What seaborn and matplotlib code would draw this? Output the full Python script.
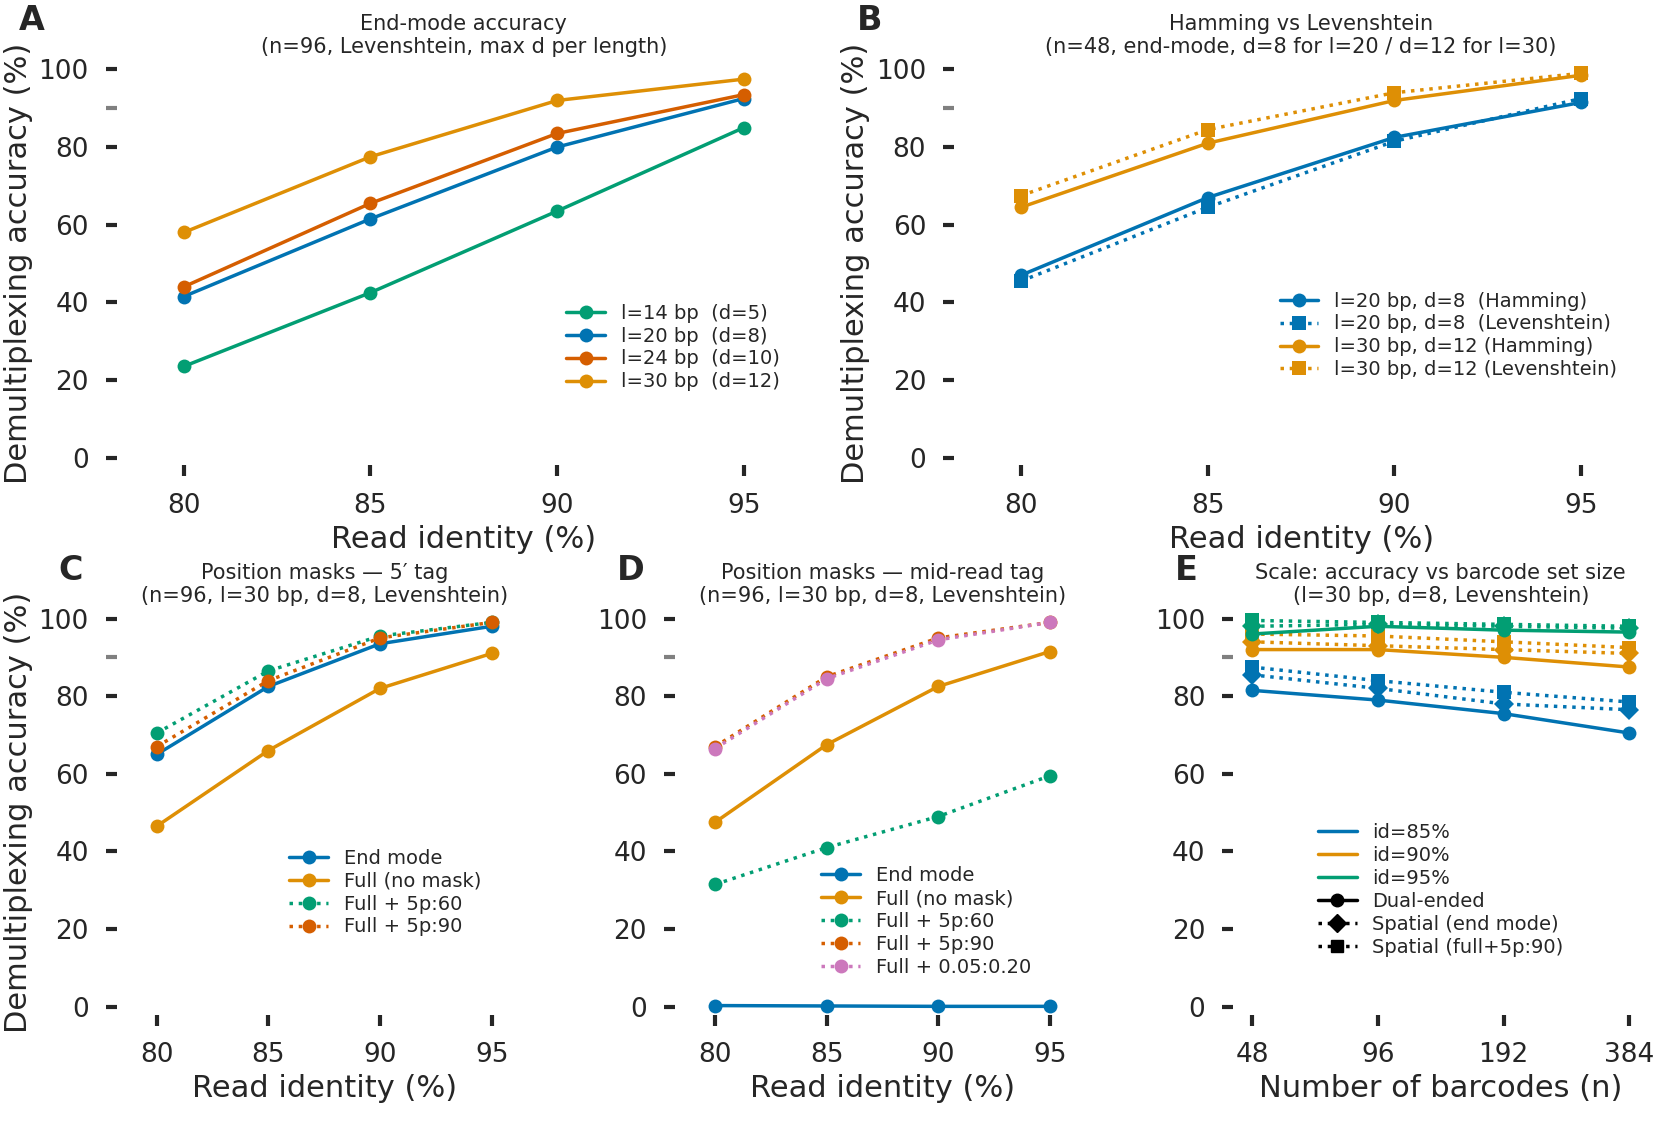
import numpy as np
import pandas as pd
import seaborn as sns
import matplotlib.pyplot as plt
from matplotlib.lines import Line2D

sns.set_theme(style="ticks", context="talk")
plt.rcParams['font.family'] = ['DejaVu Sans']

BLUE, ORANGE, GREEN, RED, PINK = "#0173b2", "#de8f05", "#029e73", "#d55e00", "#cc78bc"

identity = [80, 85, 90, 95]

# Panel A
a_l14 = [23.5, 42.5, 63.5, 85]
a_l20 = [41.5, 61.5, 80, 92.5]
a_l24 = [44, 65.5, 83.5, 93.5]
a_l30 = [58, 77.5, 92, 97.5]

# Panel B
b_l20_ham = [47, 67, 82.5, 91.5]
b_l20_lev = [45.5, 64.5, 81.5, 92.5]
b_l30_ham = [64.5, 81, 92, 98.5]
b_l30_lev = [67.5, 84.5, 94, 99]

# Panel C
c_end = [65, 82.5, 93.5, 98]
c_full = [46.5, 66, 82, 91]
c_5p60 = [70.5, 86.5, 95.5, 99]
c_5p90 = [67, 84, 95, 99]

# Panel D
d_end = [0.3, 0.2, 0.1, 0.1]
d_full = [47.5, 67.5, 82.5, 91.5]
d_5p60 = [31.5, 41, 49, 59.5]
d_5p90 = [67, 85, 95, 99]
d_frac = [66.5, 84.5, 94.5, 99]

# Panel E
n_barcodes = [48, 96, 192, 384]
e_85_dual = [81.5, 79, 75.5, 70.5]
e_85_end = [85.5, 82, 78, 76.5]
e_85_full = [87.5, 84, 81, 78.5]
e_90_dual = [92, 92, 90, 87.5]
e_90_end = [94, 93, 92, 91]
e_90_full = [96, 95.5, 94, 92.5]
e_95_dual = [96, 98, 97, 96.5]
e_95_end = [98, 98.5, 98, 97.5]
e_95_full = [99.5, 99, 98.5, 98]

fig = plt.figure(figsize=(16.65, 11.21), dpi=100)
gs = fig.add_gridspec(2, 6, left=0.07, right=0.99, top=0.945, bottom=0.095,
                      hspace=0.36, wspace=1.05)
axA = fig.add_subplot(gs[0, 0:3])
axB = fig.add_subplot(gs[0, 3:6])
axC = fig.add_subplot(gs[1, 0:2])
axD = fig.add_subplot(gs[1, 2:4])
axE = fig.add_subplot(gs[1, 4:6])


def line(ax, x, y, color, label, ls="-", marker="o", ms=10):
    sns.lineplot(x=x, y=y, ax=ax, color=color, label=label, linestyle=ls,
                 marker=marker, markersize=ms, markeredgewidth=0, linewidth=2.5)


def style(ax, letter, title, xlabel, ylabel=True):
    ax.set_ylim(-2, 102)
    ax.set_yticks([0, 20, 40, 60, 80, 100])
    ax.set_yticks([90], minor=True)
    ax.tick_params(axis="y", which="minor", length=8, width=3, color="grey")
    ax.tick_params(axis="both", which="major", length=8, width=3, labelsize=19, pad=12)
    ax.margins(x=0.12)
    sns.despine(ax=ax, left=True, bottom=True)
    ax.set_title(title, fontsize=15, linespacing=1.2)
    ax.set_xlabel(xlabel, fontsize=22, labelpad=4)
    if ylabel:
        ax.set_ylabel("Demultiplexing accuracy (%)", fontsize=22)
    ax.text(-0.14, 1.06, letter, transform=ax.transAxes, fontsize=24,
            fontweight="bold", va="bottom")


line(axA, identity, a_l14, GREEN, "l=14 bp  (d=5)")
line(axA, identity, a_l20, BLUE, "l=20 bp  (d=8)")
line(axA, identity, a_l24, RED, "l=24 bp  (d=10)")
line(axA, identity, a_l30, ORANGE, "l=30 bp  (d=12)")
axA.set_xticks(identity)
style(axA, "A", "End-mode accuracy\n(n=96, Levenshtein, max d per length)", "Read identity (%)")
axA.legend(loc="lower right", bbox_to_anchor=(0.98, 0.14), frameon=False, fontsize=14,
           handlelength=2, labelspacing=0.2)

line(axB, identity, b_l20_ham, BLUE, "l=20 bp, d=8  (Hamming)")
line(axB, identity, b_l20_lev, BLUE, "l=20 bp, d=8  (Levenshtein)", ls=":", marker="s")
line(axB, identity, b_l30_ham, ORANGE, "l=30 bp, d=12 (Hamming)")
line(axB, identity, b_l30_lev, ORANGE, "l=30 bp, d=12 (Levenshtein)", ls=":", marker="s")
axB.set_xticks(identity)
style(axB, "B", "Hamming vs Levenshtein\n(n=48, end-mode, d=8 for l=20 / d=12 for l=30)",
      "Read identity (%)")
axB.legend(loc="lower right", bbox_to_anchor=(0.98, 0.17), frameon=False, fontsize=14,
           handlelength=2, labelspacing=0.2)

line(axC, identity, c_end, BLUE, "End mode")
line(axC, identity, c_full, ORANGE, "Full (no mask)")
line(axC, identity, c_5p60, GREEN, "Full + 5p:60", ls=":")
line(axC, identity, c_5p90, RED, "Full + 5p:90", ls=":")
axC.set_xticks(identity)
style(axC, "C", "Position masks — 5′ tag\n(n=96, l=30 bp, d=8, Levenshtein)", "Read identity (%)")
axC.legend(loc="lower right", bbox_to_anchor=(0.92, 0.15), frameon=False, fontsize=14,
           handlelength=2, labelspacing=0.2)

line(axD, identity, d_end, BLUE, "End mode")
line(axD, identity, d_full, ORANGE, "Full (no mask)")
line(axD, identity, d_5p60, GREEN, "Full + 5p:60", ls=":")
line(axD, identity, d_5p90, RED, "Full + 5p:90", ls=":")
line(axD, identity, d_frac, PINK, "Full + 0.05:0.20", ls=":")
axD.set_xticks(identity)
style(axD, "D", "Position masks — mid-read tag\n(n=96, l=30 bp, d=8, Levenshtein)",
      "Read identity (%)", ylabel=False)
axD.legend(loc="lower right", bbox_to_anchor=(0.9, 0.05), frameon=False, fontsize=14,
           handlelength=2, labelspacing=0.2)

for col, dual, end, full in [(BLUE, e_85_dual, e_85_end, e_85_full),
                             (ORANGE, e_90_dual, e_90_end, e_90_full),
                             (GREEN, e_95_dual, e_95_end, e_95_full)]:
    line(axE, n_barcodes, dual, col, None)
    line(axE, n_barcodes, end, col, None, ls=":", marker="D")
    line(axE, n_barcodes, full, col, None, ls=":", marker="s")
axE.set_xscale("log", base=2)
axE.set_xticks(n_barcodes)
axE.set_xticklabels([str(n) for n in n_barcodes])
axE.minorticks_off()
style(axE, "E", "Scale: accuracy vs barcode set size\n(l=30 bp, d=8, Levenshtein)",
      "Number of barcodes (n)", ylabel=False)
axE.margins(x=0.05)
handles = [Line2D([], [], color=BLUE, lw=2.5, label="id=85%"),
           Line2D([], [], color=ORANGE, lw=2.5, label="id=90%"),
           Line2D([], [], color=GREEN, lw=2.5, label="id=95%"),
           Line2D([], [], color="black", lw=2.5, marker="o", ms=9, label="Dual-ended"),
           Line2D([], [], color="black", lw=2.5, ls=":", marker="D", ms=9, label="Spatial (end mode)"),
           Line2D([], [], color="black", lw=2.5, ls=":", marker="s", ms=9, label="Spatial (full+5p:90)")]
axE.legend(handles=handles, loc="lower center", bbox_to_anchor=(0.5, 0.1), frameon=False,
           fontsize=14, handlelength=2, labelspacing=0.2)

fig.savefig("out.png", dpi=100)
